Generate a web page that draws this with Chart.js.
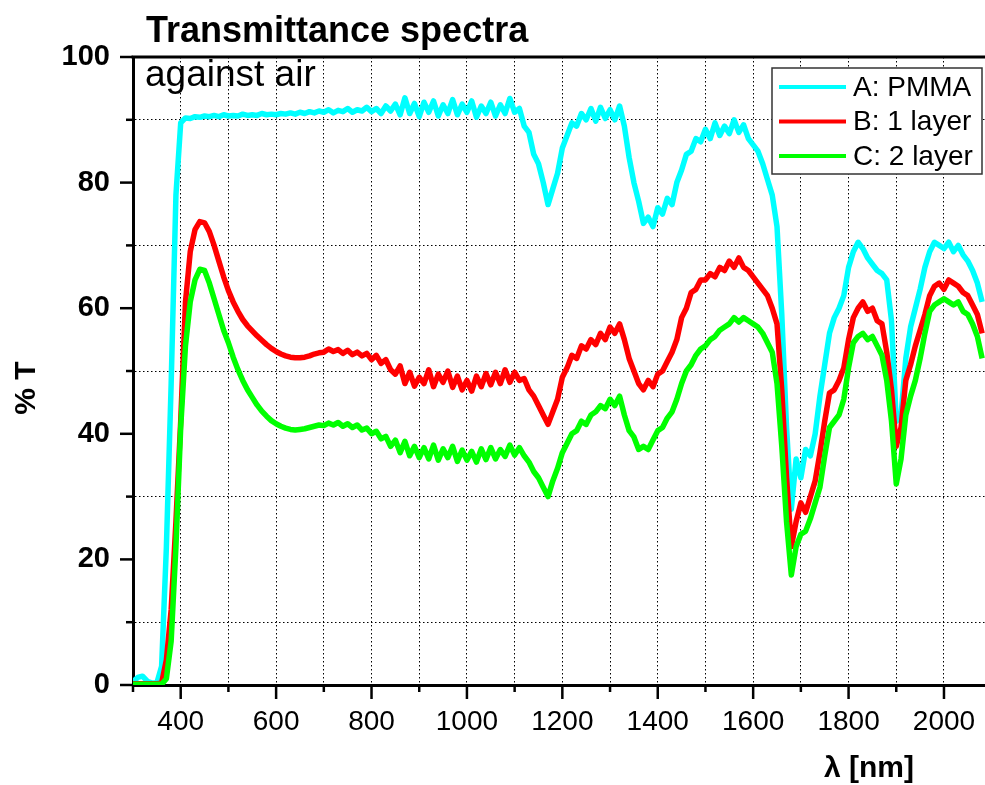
<!DOCTYPE html>
<html>
<head>
<meta charset="utf-8">
<title>Transmittance spectra</title>
<script src="https://cdn.jsdelivr.net/npm/chart.js@4.4.1/dist/chart.umd.min.js"></script>
<style>
	html, body { margin: 0; padding: 0; background: #fff; }
	#grafico-box { position: relative; width: 985px; height: 785px; }
</style>
</head>
<body>
<div id="grafico-box"><canvas id="graficoTransmitancia"></canvas></div>
<script>
// comprimentos de onda (nm)
var comprimentos = [
	 300,  310,  320,  330,  340,  350,  360,  370,  380,  390,
	 400,  410,  420,  430,  440,  450,  460,  470,  480,  490,
	 500,  510,  520,  530,  540,  550,  560,  570,  580,  590,
	 600,  610,  620,  630,  640,  650,  660,  670,  680,  690,
	 700,  710,  720,  730,  740,  750,  760,  770,  780,  790,
	 800,  810,  820,  830,  840,  850,  860,  870,  880,  890,
	 900,  910,  920,  930,  940,  950,  960,  970,  980,  990,
	1000, 1010, 1020, 1030, 1040, 1050, 1060, 1070, 1080, 1090,
	1100, 1110, 1120, 1130, 1140, 1150, 1160, 1170, 1180, 1190,
	1200, 1210, 1220, 1230, 1240, 1250, 1260, 1270, 1280, 1290,
	1300, 1310, 1320, 1330, 1340, 1350, 1360, 1370, 1380, 1390,
	1400, 1410, 1420, 1430, 1440, 1450, 1460, 1470, 1480, 1490,
	1500, 1510, 1520, 1530, 1540, 1550, 1560, 1570, 1580, 1590,
	1600, 1610, 1620, 1630, 1640, 1650, 1660, 1670, 1680, 1690,
	1700, 1710, 1720, 1730, 1740, 1750, 1760, 1770, 1780, 1790,
	1800, 1810, 1820, 1830, 1840, 1850, 1860, 1870, 1880, 1890,
	1900, 1910, 1920, 1930, 1940, 1950, 1960, 1970, 1980, 1990,
	2000, 2010, 2020, 2030, 2040, 2050, 2060, 2070, 2080
];

// A: PMMA (%T)
var serieA = [
	 0.5,  1.2,  1.4,  0.6,  0.3,  0.3,  3.0, 22.0, 48.0, 78.0,
	89.5, 90.3, 90.2, 90.5, 90.4, 90.6, 90.5, 90.7, 90.5, 90.8,
	90.6, 90.7, 90.6, 90.9, 90.7, 90.8, 90.7, 91.0, 90.8, 90.9,
	90.8, 91.0, 90.9, 91.1, 90.9, 91.2, 91.0, 91.3, 91.1, 91.4,
	91.2, 91.6, 91.1, 91.5, 91.3, 91.8, 91.2, 91.6, 91.4, 92.0,
	91.3, 91.8, 91.0, 92.2, 91.4, 92.5, 90.8, 93.5, 91.0, 92.6,
	90.5, 92.8, 91.2, 93.0, 90.6, 92.4, 91.0, 93.2, 90.8, 92.5,
	91.2, 93.0, 90.4, 92.2, 91.0, 92.8, 90.6, 92.4, 91.0, 93.4,
	91.2, 91.8, 89.0, 88.0, 84.5, 83.0, 80.0, 76.5, 79.0, 81.5,
	85.5, 87.5, 89.5, 89.0, 91.0, 90.0, 91.8, 89.8, 92.0, 90.2,
	91.6, 90.0, 92.2, 89.0, 84.0, 80.0, 77.0, 73.5, 74.5, 73.0,
	76.0, 75.0, 77.5, 76.5, 80.0, 82.0, 84.5, 85.0, 87.0, 86.5,
	88.5, 87.0, 89.5, 87.5, 89.0, 87.8, 90.0, 88.0, 89.2, 87.0,
	86.0, 85.0, 83.0, 80.5, 78.0, 73.0, 59.0, 41.0, 28.0, 36.0,
	33.0, 37.5, 36.5, 40.0, 46.0, 51.0, 56.0, 58.5, 60.0, 62.0,
	66.5, 69.0, 70.5, 69.5, 68.0, 67.0, 66.0, 65.5, 64.5, 58.0,
	42.0, 43.0, 52.0, 57.0, 60.0, 63.0, 66.5, 69.0, 70.5, 70.0,
	69.5, 70.5, 69.0, 70.0, 68.5, 67.5, 66.0, 64.0, 61.0
];

// B: 1 layer (%T)
var serieB = [
	 0.2,  0.2,  0.2,  0.2,  0.2,  0.2,  0.3,  4.0, 12.0, 26.0,
	42.0, 61.0, 69.0, 72.5, 73.8, 73.6, 72.2, 70.0, 67.5, 65.0,
	62.8, 61.0, 59.5, 58.2, 57.2, 56.4, 55.6, 54.9, 54.2, 53.6,
	53.1, 52.7, 52.4, 52.2, 52.1, 52.1, 52.2, 52.4, 52.7, 52.9,
	53.0, 53.5, 53.1, 53.4, 52.8, 53.3, 52.6, 53.0, 52.4, 52.8,
	51.8, 52.5, 51.2, 51.8, 50.2, 49.5, 50.8, 48.0, 49.8, 47.6,
	49.0, 48.0, 50.2, 47.5, 49.5, 48.2, 50.0, 47.4, 49.2, 47.0,
	48.5, 46.8, 49.2, 47.5, 49.6, 47.8, 49.8, 48.0, 50.2, 48.2,
	49.8, 48.5, 48.8, 47.0, 46.0, 44.5, 43.0, 41.5, 43.5, 45.5,
	49.0, 50.5, 52.5, 52.0, 54.0, 53.5, 55.0, 54.2, 56.0, 55.0,
	57.0, 56.0, 57.5, 55.0, 52.0, 50.0, 48.0, 47.0, 48.5, 47.5,
	49.5, 50.0, 51.5, 53.0, 55.0, 58.5, 60.0, 62.5, 63.0, 64.5,
	64.5, 65.5, 65.0, 66.5, 66.0, 67.5, 66.5, 68.0, 66.5, 66.0,
	65.0, 64.0, 63.0, 62.0, 60.0, 57.5, 47.0, 33.0, 22.0, 26.0,
	29.0, 27.5, 30.0, 32.5, 37.0, 42.0, 46.5, 47.0, 48.5, 50.5,
	55.0, 58.5, 60.0, 61.0, 59.5, 60.0, 58.0, 57.5, 53.0, 47.0,
	38.0, 41.0, 48.5, 51.0, 54.0, 56.5, 59.0, 62.0, 63.5, 64.0,
	63.0, 64.5, 64.0, 63.5, 62.5, 62.0, 60.5, 59.0, 56.0
];

// C: 2 layer (%T)
var serieC = [
	 0.1,  0.1,  0.1,  0.1,  0.1,  0.1,  0.1,  1.0,  7.0, 22.0,
	41.0, 54.0, 61.0, 64.5, 66.2, 66.0, 64.0, 61.5, 59.0, 56.5,
	54.5, 52.2, 50.2, 48.5, 47.0, 45.8, 44.6, 43.6, 42.8, 42.1,
	41.6, 41.2, 40.9, 40.7, 40.6, 40.7, 40.8, 41.0, 41.2, 41.4,
	41.3, 41.7, 41.4, 41.8, 41.2, 41.6, 41.0, 41.4, 40.6, 40.9,
	40.0, 40.4, 39.2, 39.6, 38.0, 39.0, 37.0, 38.8, 36.5, 38.0,
	36.2, 37.8, 36.0, 38.2, 35.8, 37.6, 36.2, 38.0, 35.6, 37.4,
	35.8, 37.2, 35.5, 37.6, 35.9, 37.8, 36.0, 37.5, 36.4, 38.2,
	36.6, 37.8, 36.5, 35.5, 34.0, 33.0, 31.5, 30.0, 32.5, 34.5,
	37.0, 38.5, 40.0, 40.5, 42.0, 41.5, 43.0, 43.5, 44.5, 44.0,
	45.5, 44.5, 46.0, 43.0, 40.5, 39.5, 37.5, 38.0, 37.5, 39.0,
	40.5, 41.0, 42.5, 43.5, 45.5, 48.0, 50.0, 51.0, 52.5, 53.5,
	54.0, 55.0, 55.5, 56.5, 57.0, 57.5, 58.5, 57.8, 58.5, 58.0,
	57.5, 57.0, 56.0, 54.5, 53.0, 48.0, 38.0, 26.0, 17.5, 22.0,
	24.0, 24.5, 26.5, 29.0, 31.5, 36.5, 41.0, 42.0, 43.0, 45.5,
	50.5, 54.5, 55.5, 56.0, 55.0, 55.5, 54.0, 52.5, 48.5, 42.0,
	32.0, 36.0, 43.0, 46.0, 48.5, 52.0, 56.0, 59.5, 60.5, 61.0,
	61.5, 61.0, 60.5, 61.0, 59.5, 59.0, 57.5, 55.5, 52.0
];

var nomesSeries = ['A: PMMA', 'B: 1 layer', 'C: 2 layer'];
var labelsX = [400, 600, 800, 1000, 1200, 1400, 1600, 1800, 2000];
var labelsY = [0, 20, 40, 60, 80, 100];

var FONTE = '"Liberation Sans", Arial, Helvetica, sans-serif';

var Grafico = Grafico || {};

Grafico.Transmitancia = (function(){

	var cores = ['#00ffff', '#ff0000', '#00ff00'];

	function Transmitancia(){
		this.ctx = document.getElementById('graficoTransmitancia').getContext('2d');
	}

	function pontos(valores){
		return comprimentos.map(function(w, i){ return { x: w, y: valores[i] }; });
	}

	// moldura de cima, tracinhos, titulos e legenda
	var decoracao = {
		id: 'decoracao',
		afterDatasetsDraw: function(chart){
			var c = chart.ctx, area = chart.chartArea;
			var sx = chart.scales.x, sy = chart.scales.y;
			c.save();
			c.strokeStyle = '#000';
			c.lineCap = 'butt';

			c.lineWidth = 3;
			c.beginPath();
			c.moveTo(area.left - 1.5, area.top);
			c.lineTo(chart.width, area.top);
			c.stroke();

			c.lineWidth = 2.5;
			sy.ticks.forEach(function(t){
				var py = sy.getPixelForValue(t.value);
				var len = labelsY.indexOf(t.value) >= 0 ? 13 : 7;
				c.beginPath();
				c.moveTo(area.left - len, py);
				c.lineTo(area.left, py);
				c.stroke();
			});
			sx.ticks.forEach(function(t){
				var px = sx.getPixelForValue(t.value);
				var len = labelsX.indexOf(t.value) >= 0 ? 14 : 7;
				c.beginPath();
				c.moveTo(px, area.bottom);
				c.lineTo(px, area.bottom + len);
				c.stroke();
			});

			// legenda
			var lx = 772, ly = 68, lw = 210, lh = 106;
			c.fillStyle = '#fff';
			c.fillRect(lx, ly, lw, lh);
			c.lineWidth = 1.5;
			c.strokeStyle = '#333';
			c.strokeRect(lx, ly, lw, lh);
			c.font = '28px ' + FONTE;
			c.textBaseline = 'middle';
			c.textAlign = 'left';
			chart.data.datasets.forEach(function(ds, i){
				var yy = 87 + i * 34.5;
				c.strokeStyle = ds.borderColor;
				c.lineWidth = 4;
				c.beginPath();
				c.moveTo(779, yy);
				c.lineTo(846, yy);
				c.stroke();
				c.fillStyle = '#000';
				c.fillText(ds.label, 853, yy + 1);
			});
			c.restore();
		},
		afterDraw: function(chart){
			var c = chart.ctx;
			c.save();
			c.fillStyle = '#000';
			c.textBaseline = 'alphabetic';
			c.textAlign = 'left';
			c.font = 'bold 36px ' + FONTE;
			c.fillText('Transmittance spectra', 146, 42);
			c.font = '37px ' + FONTE;
			c.fillText('against air', 145, 86);

			c.font = 'bold 30px ' + FONTE;
			c.textAlign = 'center';
			c.fillText('\u03bb [nm]', 869, 777);

			c.translate(27, 388);
			c.rotate(-Math.PI / 2);
			c.textBaseline = 'middle';
			c.fillText('% T', 0, 0);
			c.restore();
		}
	};

	Transmitancia.prototype.iniciar = function(){
		var datasets = [serieA, serieB, serieC].map(function(valores, i){
			return {
				label: nomesSeries[i],
				data: pontos(valores),
				borderColor: cores[i],
				backgroundColor: cores[i],
				borderWidth: 5.5,
				pointRadius: 0,
				tension: 0,
				borderJoinStyle: 'round',
				order: 2 - i
			};
		});

		new Chart(this.ctx, {
			type: 'line',
			data: { datasets: datasets },
			plugins: [decoracao],
			options: {
				responsive: true,
				maintainAspectRatio: false,
				animation: false,
				layout: { padding: { top: 57, left: 0, right: 0, bottom: 0 } },
				plugins: {
					legend: { display: false },
					title: { display: false },
					tooltip: { enabled: false }
				},
				scales: {
					x: {
						type: 'linear',
						min: 300,
						max: 2086,
						afterFit: function(s){
							s.height = 100;
							s.paddingLeft = 0;
							s.paddingRight = 0;
						},
						ticks: {
							stepSize: 100,
							includeBounds: false,
							autoSkip: false,
							maxRotation: 0,
							padding: 20,
							color: '#000',
							font: { family: FONTE, size: 28 },
							callback: function(v){ return labelsX.indexOf(v) >= 0 ? String(v) : ''; }
						},
						grid: { color: '#000', lineWidth: 1, drawTicks: false },
						border: { display: true, color: '#000', width: 3, dash: [1.5, 2.5] }
					},
					y: {
						min: 0,
						max: 100,
						afterFit: function(s){
							s.width = 133;
							s.paddingTop = 0;
							s.paddingBottom = 0;
						},
						ticks: {
							stepSize: 10,
							autoSkip: false,
							padding: 23,
							color: '#000',
							font: { family: FONTE, size: 29, weight: 'bold' },
							callback: function(v){ return labelsY.indexOf(v) >= 0 ? String(v) : ''; }
						},
						grid: {
							color: function(ctx){
								return ctx.tick && ctx.tick.value % 20 === 10 ? '#000' : 'rgba(0,0,0,0)';
							},
							lineWidth: 1,
							drawTicks: false
						},
						border: { display: true, color: '#000', width: 3, dash: [1.5, 2.5] }
					}
				}
			}
		});
	};

	return Transmitancia;
}());

window.addEventListener('load', function(){
	var grafico = new Grafico.Transmitancia();
	grafico.iniciar();
});
</script>
</body>
</html>
